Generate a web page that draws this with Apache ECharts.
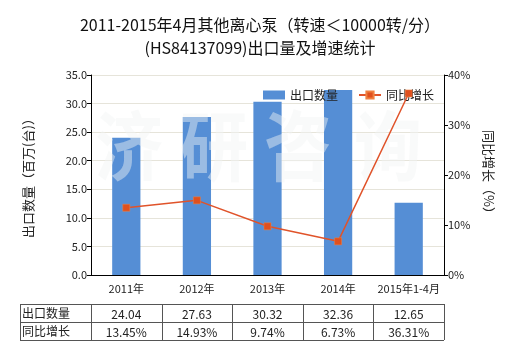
<!DOCTYPE html>
<html>
<head>
<meta charset="utf-8">
<script src="https://cdn.jsdelivr.net/npm/echarts@6/dist/echarts.min.js"></script>
<style>
  html, body { margin: 0; padding: 0; background: #fff; }
  #chart { width: 520px; height: 350px; }
</style>
</head>
<body>
<div id="chart"></div>
<script>
// Categories and series values
const categories = ['2011年', '2012年', '2013年', '2014年', '2015年1-4月'];
const exportQty = [24.04, 27.63, 30.32, 32.36, 12.65];      // 百万(台)
const growthRate = [13.45, 14.93, 9.74, 6.73, 36.31];       // %
const qtyName = '出口数量';
const rateName = '同比增长';
const titleLines = ['2011-2015年4月其他离心泵（转速＜10000转/分）', '(HS84137099)出口量及增速统计'];
const watermarkChars = ['济', '研', '咨', '询'];

const FONT = '"Noto Sans CJK SC", "Microsoft YaHei", sans-serif';
const GRID_L = 91, GRID_R = 444, GRID_T = 75, GRID_B = 275;
const TABLE_L = 20, ROW1 = 304, ROW2 = 322, ROW3 = 340;

const chart = echarts.init(document.getElementById('chart'));

// Data table under the chart: columns follow the category bands
function buildTable() {
  const els = [];
  const band = (GRID_R - GRID_L) / categories.length;
  const lineStyle = { stroke: '#555', lineWidth: 1 };
  [ROW1, ROW2, ROW3].forEach(y => {
    els.push({ type: 'line', shape: { x1: TABLE_L, y1: y + 0.5, x2: GRID_R, y2: y + 0.5 }, style: lineStyle, silent: true });
  });
  const xs = [TABLE_L, GRID_L];
  for (let i = 1; i <= categories.length; i++) xs.push(GRID_L + band * i);
  xs.forEach(x => {
    const px = Math.round(x) + 0.5;
    els.push({ type: 'line', shape: { x1: px, y1: ROW1, x2: px, y2: ROW3 }, style: lineStyle, silent: true });
  });
  const rows = [
    { name: qtyName, vals: exportQty.map(v => v.toFixed(2)), y: (ROW1 + ROW2) / 2 },
    { name: rateName, vals: growthRate.map(v => v.toFixed(2) + '%'), y: (ROW2 + ROW3) / 2 }
  ];
  rows.forEach(r => {
    els.push({ type: 'text', x: TABLE_L + 2, y: r.y, style: { text: r.name, font: '12px ' + FONT, fill: '#222', verticalAlign: 'middle', align: 'left' }, silent: true });
    r.vals.forEach((t, i) => {
      els.push({ type: 'text', x: GRID_L + band * (i + 0.5), y: r.y + 1, style: { text: t, font: '12px ' + FONT, fill: '#222', verticalAlign: 'middle', align: 'center' }, silent: true });
    });
  });
  return els;
}

// Faint brand mark across the plot area
function buildWatermark() {
  const centers = [129, 214, 298, 388];
  return watermarkChars.map((ch, i) => ({
    type: 'text', x: centers[i], y: 146, z: 3, silent: true,
    scaleY: 1.12,
    style: {
      text: ch, font: 'bold 68px ' + FONT,
      fill: 'rgba(242,245,245,0.45)', align: 'center', verticalAlign: 'middle'
    }
  }));
}

chart.setOption({
  animation: false,
  title: {
    text: titleLines.join('\n'),
    left: 'center', top: 8,
    textStyle: { fontFamily: FONT, fontSize: 16, fontWeight: 'normal', color: '#111', lineHeight: 23 }
  },
  legend: {
    left: 258, top: 84, itemWidth: 22, itemHeight: 9, itemGap: 20,
    textStyle: { fontFamily: FONT, fontSize: 12, color: '#222' },
    data: [
      { name: qtyName, icon: 'rect' },
      { name: rateName }
    ]
  },
  grid: { left: GRID_L, right: 520 - GRID_R, top: GRID_T, bottom: 350 - GRID_B },
  xAxis: {
    type: 'category', data: categories,
    axisLine: { lineStyle: { color: '#000' } },
    axisTick: { alignWithLabel: true, length: 4, lineStyle: { color: '#000' } },
    axisLabel: { interval: 0, fontFamily: FONT, fontSize: 11, color: '#222', margin: 8 }
  },
  yAxis: [
    {
      type: 'value', min: 0, max: 35, interval: 5,
      name: '出口数量（百万(台)）', nameLocation: 'middle', nameGap: 56, nameRotate: 90,
      nameTextStyle: { fontFamily: FONT, fontSize: 13, color: '#222' },
      axisLine: { show: true, lineStyle: { color: '#000' } },
      axisTick: { show: true, length: 4, lineStyle: { color: '#000' } },
      axisLabel: { fontFamily: FONT, fontSize: 11, color: '#222', margin: 4, formatter: v => v.toFixed(1) },
      splitLine: { show: true, lineStyle: { color: '#e6e4da', width: 1 } }
    },
    {
      type: 'value', min: 0, max: 40, interval: 10,
      name: '同比增长（%）', nameLocation: 'middle', nameGap: 38, nameRotate: -90,
      nameTextStyle: { fontFamily: FONT, fontSize: 13, color: '#222' },
      axisLine: { show: true, lineStyle: { color: '#000' } },
      axisTick: { show: true, length: 4, lineStyle: { color: '#000' } },
      axisLabel: { fontFamily: FONT, fontSize: 11, color: '#222', margin: 4, formatter: '{value}%' },
      splitLine: { show: false }
    }
  ],
  series: [
    {
      name: qtyName, type: 'bar', data: exportQty, barWidth: '40%', z: 2,
      itemStyle: { color: '#558ed5' }
    },
    {
      name: rateName, type: 'line', yAxisIndex: 1, data: growthRate,
      symbol: 'rect', symbolSize: 7, z: 5,
      lineStyle: { color: '#e0532a', width: 1.5 },
      itemStyle: { color: '#e0501e', borderColor: '#f08040', borderWidth: 0.5 }
    }
  ],
  graphic: buildWatermark().concat(buildTable())
});
</script>
</body>
</html>
